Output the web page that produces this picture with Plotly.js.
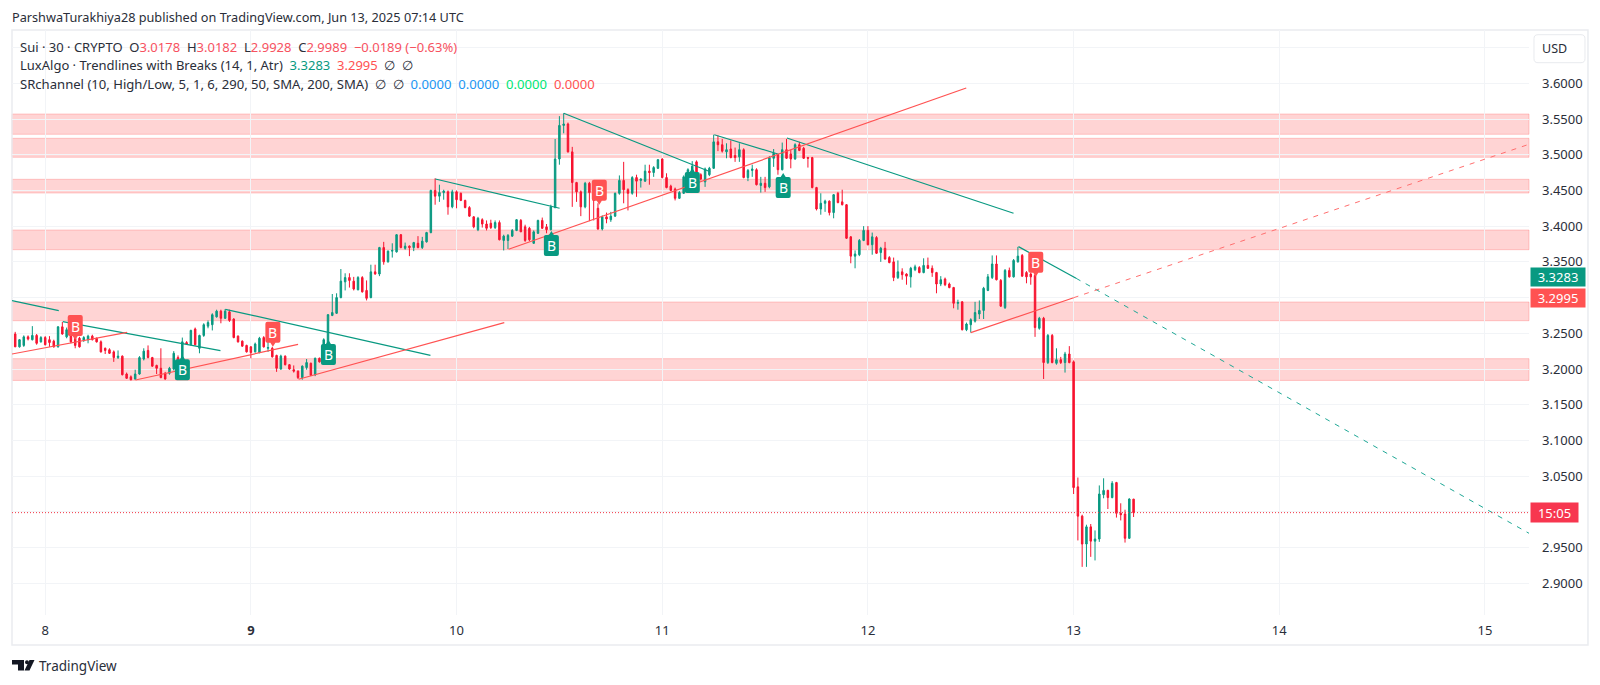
<!DOCTYPE html>
<html><head><meta charset="utf-8">
<script src="https://cdn.plot.ly/plotly-3.0.1.min.js"></script>
<style>html,body{margin:0;padding:0;background:#fff}#chart{width:1600px;height:685px}</style>
</head><body><div id="chart"></div>
<script>
const opens=[
3.249,3.231,3.233,3.245,3.241,3.247,3.238,3.244,3.241,3.239,
3.231,3.259,3.245,3.252,3.243,3.243,3.240,3.241,3.246,3.243,
3.238,3.229,3.227,3.224,3.216,3.218,3.193,3.189,3.186,3.193,
3.214,3.226,3.216,3.205,3.201,3.194,3.194,3.200,3.216,3.215,
3.237,3.234,3.256,3.229,3.247,3.260,3.262,3.273,3.281,3.271,
3.280,3.270,3.246,3.239,3.233,3.231,3.224,3.223,3.244,3.229,
3.229,3.219,3.200,3.218,3.206,3.199,3.197,3.188,3.202,3.208,
3.192,3.215,3.212,3.236,3.275,3.278,3.300,3.322,3.328,3.323,
3.311,3.328,3.310,3.300,3.336,3.333,3.370,3.350,3.365,3.364,
3.388,3.369,3.372,3.370,3.376,3.370,3.378,3.391,3.450,3.442,
3.447,3.448,3.427,3.448,3.446,3.436,3.426,3.413,3.395,3.409,
3.403,3.404,3.398,3.405,3.380,3.380,3.386,3.394,3.408,3.399,
3.397,3.376,3.390,3.408,3.399,3.395,3.426,3.494,3.541,3.543,
3.504,3.461,3.448,3.427,3.460,3.456,3.425,3.396,3.413,3.409,
3.414,3.446,3.464,3.451,3.446,3.468,3.464,3.463,3.477,3.475,
3.481,3.494,3.468,3.456,3.452,3.439,3.446,3.467,3.469,3.490,
3.472,3.462,3.472,3.481,3.518,3.514,3.504,3.508,3.499,3.497,
3.507,3.468,3.478,3.479,3.457,3.460,3.455,3.495,3.500,3.479,
3.507,3.501,3.494,3.514,3.509,3.496,3.496,3.454,3.424,3.432,
3.435,3.419,3.446,3.434,3.430,3.385,3.358,3.360,3.380,3.394,
3.374,3.384,3.363,3.369,3.356,3.350,3.328,3.336,3.333,3.329,
3.339,3.342,3.335,3.345,3.341,3.335,3.319,3.326,3.319,3.314,
3.292,3.294,3.255,3.262,3.267,3.277,3.282,3.310,3.328,3.347,
3.324,3.286,3.338,3.329,3.350,3.359,3.335,3.333,3.331,3.257,
3.271,3.209,3.247,3.208,3.213,3.209,3.221,3.210,3.035,2.994,
2.955,2.979,2.959,2.962,3.024,3.030,3.020,3.041,2.998,2.997,2.963,3.0178];
const highs=[
3.252,3.242,3.247,3.247,3.260,3.249,3.246,3.246,3.246,3.241,
3.260,3.266,3.258,3.257,3.247,3.245,3.246,3.248,3.248,3.244,
3.240,3.230,3.229,3.226,3.226,3.219,3.195,3.191,3.199,3.218,
3.229,3.233,3.217,3.206,3.229,3.196,3.203,3.225,3.219,3.244,
3.239,3.255,3.258,3.248,3.264,3.268,3.278,3.283,3.283,3.284,
3.283,3.271,3.247,3.240,3.234,3.232,3.237,3.245,3.246,3.238,
3.231,3.220,3.220,3.219,3.207,3.205,3.198,3.205,3.214,3.209,
3.216,3.216,3.243,3.277,3.305,3.306,3.340,3.334,3.334,3.329,
3.330,3.330,3.324,3.346,3.346,3.371,3.378,3.366,3.376,3.389,
3.389,3.377,3.373,3.378,3.386,3.385,3.392,3.451,3.467,3.458,
3.451,3.450,3.451,3.450,3.447,3.437,3.428,3.414,3.413,3.411,
3.408,3.409,3.408,3.408,3.388,3.389,3.396,3.410,3.410,3.402,
3.399,3.394,3.409,3.412,3.403,3.430,3.522,3.554,3.558,3.545,
3.511,3.462,3.450,3.462,3.462,3.460,3.432,3.415,3.419,3.420,
3.447,3.471,3.490,3.453,3.470,3.472,3.467,3.486,3.486,3.484,
3.494,3.495,3.474,3.458,3.454,3.449,3.471,3.481,3.491,3.492,
3.474,3.482,3.483,3.528,3.527,3.522,3.516,3.520,3.510,3.516,
3.509,3.480,3.486,3.481,3.469,3.469,3.498,3.508,3.501,3.517,
3.522,3.507,3.516,3.518,3.511,3.497,3.497,3.455,3.446,3.437,
3.436,3.445,3.448,3.451,3.431,3.386,3.366,3.382,3.400,3.400,
3.391,3.386,3.371,3.378,3.358,3.356,3.352,3.341,3.334,3.343,
3.346,3.344,3.355,3.356,3.345,3.336,3.330,3.328,3.321,3.315,
3.297,3.295,3.265,3.271,3.294,3.296,3.315,3.333,3.359,3.359,
3.326,3.340,3.342,3.354,3.371,3.361,3.337,3.335,3.340,3.273,
3.273,3.249,3.249,3.229,3.217,3.224,3.232,3.212,3.048,2.996,
2.982,2.983,2.974,3.037,3.047,3.031,3.043,3.042,3.012,3.003,3.019,3.0182];
const lows=[
3.231,3.230,3.231,3.240,3.240,3.234,3.237,3.233,3.231,3.230,
3.230,3.248,3.243,3.236,3.229,3.230,3.238,3.236,3.240,3.237,
3.223,3.221,3.221,3.210,3.214,3.191,3.186,3.184,3.185,3.192,
3.212,3.215,3.203,3.193,3.187,3.185,3.192,3.198,3.212,3.212,
3.234,3.233,3.233,3.222,3.245,3.257,3.254,3.272,3.264,3.270,
3.266,3.243,3.237,3.231,3.223,3.215,3.223,3.222,3.230,3.224,
3.216,3.196,3.199,3.205,3.199,3.195,3.186,3.185,3.199,3.190,
3.190,3.209,3.211,3.235,3.274,3.277,3.299,3.310,3.314,3.310,
3.310,3.307,3.296,3.299,3.332,3.330,3.346,3.349,3.356,3.363,
3.369,3.367,3.358,3.365,3.369,3.368,3.377,3.390,3.430,3.434,
3.437,3.416,3.425,3.425,3.435,3.425,3.413,3.397,3.393,3.398,
3.394,3.396,3.396,3.380,3.366,3.368,3.385,3.393,3.392,3.378,
3.379,3.375,3.389,3.396,3.390,3.394,3.425,3.486,3.530,3.503,
3.427,3.434,3.414,3.425,3.407,3.408,3.395,3.394,3.404,3.406,
3.413,3.444,3.432,3.422,3.444,3.441,3.454,3.462,3.458,3.469,
3.480,3.467,3.453,3.449,3.436,3.438,3.445,3.466,3.466,3.465,
3.464,3.455,3.470,3.480,3.505,3.503,3.495,3.495,3.490,3.490,
3.467,3.463,3.469,3.457,3.447,3.448,3.453,3.483,3.472,3.478,
3.494,3.481,3.493,3.505,3.494,3.482,3.453,3.422,3.416,3.420,
3.415,3.411,3.432,3.429,3.382,3.348,3.341,3.358,3.379,3.373,
3.360,3.361,3.350,3.353,3.348,3.323,3.326,3.325,3.318,3.314,
3.337,3.334,3.334,3.340,3.329,3.306,3.316,3.316,3.313,3.285,
3.283,3.254,3.253,3.251,3.265,3.270,3.270,3.309,3.326,3.324,
3.287,3.284,3.328,3.328,3.349,3.329,3.320,3.318,3.245,3.255,
3.186,3.207,3.208,3.206,3.207,3.195,3.208,3.025,2.960,2.923,
2.923,2.937,2.932,2.958,3.019,3.004,3.019,2.992,2.988,2.957,2.962,2.9928];
const closes=[
3.231,3.241,3.245,3.242,3.247,3.236,3.244,3.234,3.237,3.231,
3.259,3.249,3.255,3.238,3.233,3.231,3.244,3.246,3.241,3.238,
3.224,3.226,3.222,3.216,3.218,3.192,3.187,3.185,3.193,3.216,
3.225,3.216,3.204,3.201,3.188,3.186,3.201,3.222,3.213,3.238,
3.235,3.254,3.234,3.247,3.262,3.265,3.276,3.281,3.271,3.281,
3.268,3.244,3.238,3.232,3.224,3.223,3.235,3.243,3.231,3.230,
3.217,3.201,3.218,3.206,3.200,3.197,3.188,3.204,3.209,3.191,
3.215,3.210,3.241,3.276,3.279,3.300,3.323,3.328,3.324,3.312,
3.328,3.308,3.299,3.336,3.333,3.370,3.350,3.365,3.366,3.388,
3.370,3.372,3.370,3.377,3.370,3.379,3.391,3.450,3.442,3.447,
3.449,3.427,3.448,3.437,3.436,3.426,3.414,3.399,3.411,3.403,
3.397,3.398,3.405,3.381,3.386,3.387,3.394,3.409,3.392,3.380,
3.381,3.392,3.408,3.397,3.395,3.427,3.494,3.541,3.543,3.504,
3.461,3.448,3.427,3.460,3.447,3.436,3.396,3.413,3.410,3.414,
3.446,3.464,3.451,3.446,3.468,3.463,3.466,3.477,3.475,3.482,
3.493,3.468,3.454,3.450,3.439,3.447,3.469,3.479,3.484,3.467,
3.466,3.480,3.481,3.518,3.514,3.505,3.507,3.496,3.496,3.507,
3.468,3.478,3.480,3.458,3.460,3.454,3.496,3.502,3.479,3.507,
3.495,3.494,3.514,3.506,3.495,3.495,3.454,3.424,3.432,3.435,
3.419,3.444,3.433,3.430,3.383,3.358,3.361,3.380,3.394,3.374,
3.385,3.362,3.369,3.354,3.349,3.328,3.336,3.332,3.330,3.341,
3.343,3.335,3.345,3.341,3.335,3.319,3.325,3.318,3.314,3.292,
3.293,3.255,3.263,3.269,3.279,3.282,3.313,3.329,3.347,3.325,
3.288,3.338,3.329,3.352,3.358,3.330,3.329,3.329,3.258,3.271,
3.209,3.247,3.209,3.213,3.209,3.221,3.209,3.034,2.994,2.955,
2.979,2.959,2.962,3.025,3.030,3.020,3.040,2.998,2.996,2.963,3.018,2.9989];

// day of June for each 30-minute bar
const barDays=opens.map((_,k)=>8+(k-7)/48);

const dayTicks=[8,9,10,11,12,13,14,15];
const dayLabels=["8","<b>9</b>","10","11","12","13","14","15"];
const priceTicks=[2.90,2.95,3.00,3.05,3.10,3.15,3.20,3.25,3.30,3.35,3.40,3.45,3.50,3.55,3.60,3.65];
// 3.65, 3.30 and 3.00 sit behind the USD button and the price tags in the reference
const priceLabels=["2.9000","2.9500","","3.0500","3.1000","3.1500","3.2000","3.2500","","3.3500","3.4000","3.4500","3.5000","3.5500","3.6000",""];

const bandTop=[3.557,3.523,3.4656,3.3946,3.2938,3.2145];
const bandBottom=[3.5286,3.4964,3.4464,3.367,3.2676,3.184];

// resistance trendlines [day, price, day, price]
const downLines=[
 [7.8386,3.2957,8.066,3.2817],
 [8.0856,3.2662,8.852,3.2256],
 [8.876,3.2836,9.873,3.2192],
 [9.897,3.466,10.501,3.425],
 [10.521,3.558,11.233,3.4762],
 [11.253,3.528,11.566,3.5006],
 [11.606,3.5234,12.708,3.418],
 [12.732,3.3713,13.012,3.327]];
const upLines=[
 [7.8386,3.221,8.3985,3.2514],
 [8.439,3.1846,9.2296,3.2346],
 [9.232,3.1856,10.232,3.265],
 [10.253,3.3676,12.478,3.5934],
 [12.50,3.2509,13.0,3.2998]];
const downProjection=[13.012,3.327,15.2141,2.970];
const upProjection=[13.0,3.2998,15.2141,3.5146];

const sellDays=[8.146,9.107,10.694,12.816];
const sellPrices=[3.2602,3.2509,3.4496,3.3488];
const buyDays=[8.667,9.377,10.461,11.146,11.588];
const buyPrices=[3.1996,3.2210,3.3736,3.4618,3.4548];

const lastPrice=2.9989, upperValue=3.3283, lowerValue=3.2995;

const GREEN="#089981", RED="#F7132F", LINE_RED="#FF5252", TXT="#2a2e39";
const FONT="'Noto Sans',sans-serif";
const L=11.5,R=1529,T=30,B=615;
const px=x=>(x-L)/(R-L), py=y=>1-(y-T)/(B-T);

function roundRect(x0,y0,x1,y1,r){
 const X=v=>px(v).toFixed(5),Y=v=>py(v).toFixed(5);
 return `M${X(x0+r)} ${Y(y0)} L${X(x1-r)} ${Y(y0)} Q${X(x1)} ${Y(y0)} ${X(x1)} ${Y(y0+r)} L${X(x1)} ${Y(y1-r)} Q${X(x1)} ${Y(y1)} ${X(x1-r)} ${Y(y1)} L${X(x0+r)} ${Y(y1)} Q${X(x0)} ${Y(y1)} ${X(x0)} ${Y(y1-r)} L${X(x0)} ${Y(y0+r)} Q${X(x0)} ${Y(y0)} ${X(x0+r)} ${Y(y0)} Z`;
}
function polygon(pts){
 return pts.map((p,i)=>(i?"L":"M")+px(p[0]).toFixed(5)+" "+py(p[1]).toFixed(5)).join(" ")+" Z";
}
const sellBadge="M-5.5 11 L5.5 11 Q7.5 11 7.5 9 L7.5 -8 Q7.5 -10 5.5 -10 L2.5 -10 L0 -14 L-2.5 -10 L-5.5 -10 Q-7.5 -10 -7.5 -8 L-7.5 9 Q-7.5 11 -5.5 11 Z";
const buyBadge="M-5.5 -11 L5.5 -11 Q7.5 -11 7.5 -9 L7.5 8 Q7.5 10 5.5 10 L2.5 10 L0 14 L-2.5 10 L-5.5 10 Q-7.5 10 -7.5 8 L-7.5 -9 Q-7.5 -11 -5.5 -11 Z";

const traces=[{
 type:"candlestick",x:barDays,open:opens,high:highs,low:lows,close:closes,
 increasing:{line:{color:GREEN,width:1},fillcolor:GREEN},
 decreasing:{line:{color:RED,width:1},fillcolor:RED},
 whiskerwidth:0,hoverinfo:"skip",showlegend:false
}];
function lineTrace(s,color,dash,width){
 traces.push({type:"scatter",mode:"lines",x:[s[0],s[2]],y:[s[1],s[3]],
  line:{color:color,width:width,dash:dash},hoverinfo:"skip",showlegend:false});
}
downLines.forEach(s=>lineTrace(s,GREEN,"solid",1.2));
upLines.forEach(s=>lineTrace(s,LINE_RED,"solid",1.2));
lineTrace(downProjection,"#1FA896","5px,6px",1);
lineTrace(upProjection,"#FF6F6F","5px,6px",1);
lineTrace([7.8386,lastPrice,15.2141,lastPrice],"#F23645","1px,2px",1);

const shapes=[];
bandTop.forEach((t,i)=>shapes.push({type:"rect",layer:"below",xref:"paper",x0:0,x1:1,yref:"y",y0:bandBottom[i],y1:t,
 fillcolor:"rgba(255,82,82,0.25)",line:{color:"rgba(255,82,82,0.28)",width:1}}));
// frame
shapes.push({type:"rect",xref:"paper",yref:"paper",x0:0,x1:px(1588),y0:py(645),y1:1,line:{color:"#EAECF0",width:1.5},fillcolor:"rgba(0,0,0,0)",layer:"below"});
// USD box
shapes.push({type:"path",xref:"paper",yref:"paper",path:roundRect(1534,34.7,1585,62.7,4),fillcolor:"#fff",line:{color:"#E8EAEE",width:1},layer:"above"});
// badges
sellDays.forEach((d,i)=>shapes.push({type:"path",layer:"above",xref:"x",yref:"y",xsizemode:"pixel",ysizemode:"pixel",xanchor:d,yanchor:sellPrices[i],path:sellBadge,fillcolor:"#FF5252",line:{width:0}}));
buyDays.forEach((d,i)=>shapes.push({type:"path",layer:"above",xref:"x",yref:"y",xsizemode:"pixel",ysizemode:"pixel",xanchor:d,yanchor:buyPrices[i],path:buyBadge,fillcolor:GREEN,line:{width:0}}));
// logo
shapes.push({type:"path",xref:"paper",yref:"paper",path:polygon([[11.5,660],[23.5,660],[23.5,670.5],[17.5,670.5],[17.5,664.5],[11.5,664.5]]),fillcolor:"#131722",line:{width:0}});
shapes.push({type:"circle",xref:"paper",yref:"paper",x0:px(24.5),x1:px(28.5),y0:py(664.2),y1:py(660.2),fillcolor:"#131722",line:{width:0}});
shapes.push({type:"path",xref:"paper",yref:"paper",path:polygon([[29,660],[34,660],[29,670.5],[24,670.5]]),fillcolor:"#131722",line:{width:0}});

const c=(s,col)=>`<span style="color:${col}">${s}</span>`;
const sp="\u00a0\u00a0";
const RT="#F7525F";
const legend1="Sui · 30 · CRYPTO"+sp+"O"+c("3.0178",RT)+sp+"H"+c("3.0182",RT)+sp+"L"+c("2.9928",RT)+sp+"C"+c("2.9989",RT)+sp+c("−0.0189 (−0.63%)",RT);
const legend2="LuxAlgo · Trendlines with Breaks (14, 1, Atr)"+sp+c("3.3283",GREEN)+sp+c("3.2995","#FF5252")+sp+"∅"+sp+"∅";
const legend3="SRchannel (10, High/Low, 5, 1, 6, 290, 50, SMA, 200, SMA)"+sp+"∅"+sp+"∅"+sp+c("0.0000","#2196F3")+sp+c("0.0000","#2196F3")+sp+c("0.0000","#00E676")+sp+c("0.0000","#FF5252");

const note=(x,y,text,size,color)=>({xref:"paper",yref:"paper",x:px(x),y:py(y),text:text,showarrow:false,xanchor:"left",yanchor:"middle",align:"left",borderpad:0,font:{family:FONT,size:size,color:color||TXT}});
const annotations=[
 note(10,16.5,"ParshwaTurakhiya28 published on TradingView.com, Jun 13, 2025 07:14 UTC",12.7),
 note(19,46.5,legend1,13),
 note(19,65,legend2,13),
 note(19,84,legend3,13.1),
 note(38,666,"TradingView",13.5),
 {xref:"paper",yref:"paper",x:px(1555),y:py(48.7),text:"USD",showarrow:false,xanchor:"center",yanchor:"middle",font:{family:FONT,size:12.5,color:TXT}}
];
const tag=(v,text,bg,w,h)=>({xref:"paper",yref:"y",x:px(1530),y:v,text:text,showarrow:false,xanchor:"left",yanchor:"middle",width:w,height:h,align:"center",bgcolor:bg,borderpad:0,font:{family:FONT,size:13,color:"#fff"}});
annotations.push(tag(upperValue,upperValue.toFixed(4),GREEN,54,18));
annotations.push(tag(lowerValue,lowerValue.toFixed(4),"#FF5252",54,18));
annotations.push(tag(lastPrice,"15:05","#F7364F",47,19));
sellDays.forEach((d,i)=>annotations.push({x:d,y:sellPrices[i],xref:"x",yref:"y",text:"B",showarrow:false,font:{family:FONT,size:14,color:"#fff"}}));
buyDays.forEach((d,i)=>annotations.push({x:d,y:buyPrices[i],xref:"x",yref:"y",text:"B",showarrow:false,font:{family:FONT,size:14,color:"#fff"}}));

Plotly.newPlot("chart",traces,{
 width:1600,height:685,paper_bgcolor:"#fff",plot_bgcolor:"#fff",showlegend:false,
 margin:{l:L,r:1600-R,t:T,b:685-B,pad:0},boxgap:0.5,hovermode:false,dragmode:false,
 xaxis:{type:"linear",range:[7.8386,15.2141],tickmode:"array",tickvals:dayTicks,ticktext:dayLabels,
  showgrid:true,gridcolor:"#F2F4F7",gridwidth:1,zeroline:false,showline:false,ticks:"",ticklabelstandoff:6,
  rangeslider:{visible:false},fixedrange:true,tickfont:{family:FONT,size:13,color:TXT}},
 yaxis:{type:"linear",side:"right",range:[2.8556,3.6746],tickmode:"array",tickvals:priceTicks,ticktext:priceLabels,
  showgrid:true,gridcolor:"#F2F4F7",gridwidth:1,zeroline:false,showline:false,ticks:"",ticklabelstandoff:12,
  fixedrange:true,tickfont:{family:FONT,size:13,color:TXT}},
 shapes:shapes,annotations:annotations
},{displayModeBar:false,staticPlot:true});
</script></body></html>
